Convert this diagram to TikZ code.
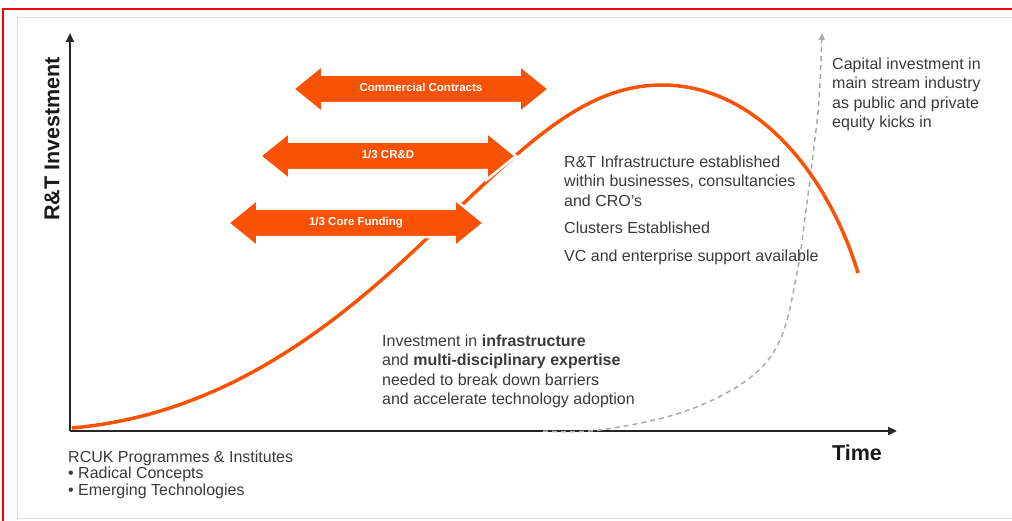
\documentclass[tikz,border=0pt]{standalone}
\usepackage{fontspec}
\setmainfont{Liberation Sans}
\usetikzlibrary{shapes.arrows,arrows.meta}
\definecolor{rtorange}{RGB}{250,82,5}
\definecolor{txtgray}{RGB}{58,58,58}
\definecolor{dashgray}{RGB}{170,170,170}
\tikzset{
  fundarrow/.style={double arrow, fill=rtorange, draw=white, line width=2.5pt,
    double arrow tip angle=78, double arrow head extend=9.5pt, minimum height=256pt,
    inner xsep=0pt, inner ysep=8pt, text height=8pt, text depth=2pt, text=white,
    font=\fontsize{11.5}{13}\selectfont\bfseries},
  note/.style={anchor=north west, inner sep=0pt, align=left, text=txtgray,
    font=\fontsize{16}{19.5}\selectfont},
  axis/.style={line width=2.5pt, draw=black!85, -{Triangle[length=9pt,width=8pt]}},
  axislabel/.style={text=black!90, font=\fontsize{21.5}{24}\selectfont\bfseries}
}
\begin{document}
\begin{tikzpicture}[x=1pt,y=-1pt]
\useasboundingbox (0,0) rectangle (1012,521);
\draw[red, line width=2pt] (3,521) -- (3,9) -- (1012,9);
\draw[black!14, line width=1pt] (1012,18) -- (17,18) -- (17,518) -- (1012,518);

\coordinate (origin) at (70,431);
\coordinate (ytip) at (70,33);
\coordinate (xtip) at (897,431);
\draw[axis] (origin) -- (ytip);
\draw[axis] (origin) -- (xtip);
\node[axislabel, rotate=90] (ylabel) at (52,139) {R\&T Investment};
\node[axislabel] (xlabel) at (857,453) {Time};

% equity curve
\draw[dashgray, line width=1.5pt, dash pattern=on 5pt off 4pt, -{Triangle[length=7pt,width=6pt]}]
  plot[smooth, tension=0.6] coordinates {(543,431) (600,430) (683,412) (747,380) (780,340)
  (797,273) (806,210) (813,155) (819,100) (822,33)};
% investment curve
\coordinate (start) at (72,428);
\coordinate (bend) at (420,245);
\coordinate (peak) at (662,85);
\coordinate (finish) at (858,273);
\draw[rtorange, line width=3.5pt] (start) .. controls (220,415) and (330,330) .. (bend)
  .. controls (520,150) and (580,85) .. (peak)
  .. controls (760,85) and (830,180) .. (finish);

\node[fundarrow] (contracts) at (421,89) {Commercial Contracts};
\node[fundarrow] (crd) at (388,156) {1/3 CR\&D};
\node[fundarrow] (core) at (356,223) {1/3 Core Funding};

\node[note] (infra) at (564,155.5) {R\&T Infrastructure established\\within businesses, consultancies\\and CRO’s\\[7.5pt]Clusters Established\\[8.5pt]VC and enterprise support available};
\node[note] (capital) at (832,57.5) {Capital investment in\\main stream industry\\as public and private\\equity kicks in};
\node[note] (expertise) at (382,334.5) {Investment in \textbf{infrastructure}\\and \textbf{multi-disciplinary expertise}\\needed to break down barriers\\and accelerate technology adoption};
\node[note, font=\fontsize{16}{16.7}\selectfont] (rcuk) at (68,450.5) {RCUK Programmes \& Institutes\\• Radical Concepts\\• Emerging Technologies};
\end{tikzpicture}
\end{document}
